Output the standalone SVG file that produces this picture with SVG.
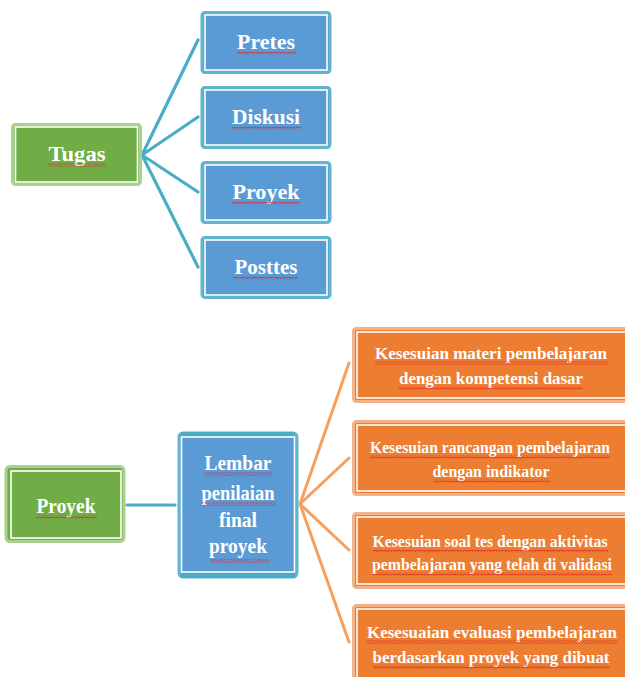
<svg xmlns="http://www.w3.org/2000/svg" width="625" height="677" viewBox="0 0 625 677">
<defs>
<pattern id="sq" width="3" height="3" patternUnits="userSpaceOnUse">
<polyline points="0,0.5 1.5,2.5 3,0.5" fill="none" stroke="#E0202A" stroke-width="0.9"/>
</pattern>
<style>
.bg{fill:#ffffff}
.green{fill:#70AD47;stroke:#A9D18E;stroke-width:3}
.blue{fill:#5B9BD5;stroke:#5FB6CE;stroke-width:3}
.orange{fill:#ED7D31;stroke:#F4B183;stroke-width:3}
.inner{fill:none;stroke:#ffffff;stroke-width:1.6}
.t{font-family:"Liberation Serif","Times New Roman",serif;font-weight:bold;fill:#ffffff;text-anchor:middle}
.t20{font-size:21px}
.t22{font-size:22px}
.t17{font-size:16px}
.tc{fill:none;stroke:#4BACC6;stroke-width:3.2;stroke-linecap:round}
.oc{fill:none;stroke:#F5A05E;stroke-width:3;stroke-linecap:round}
.u{fill:url(#sq)}
</style>
</defs>
<rect class="bg" x="0" y="0" width="625" height="677"/>

<g id="connectors">
<path class="tc" d="M142,155 L198,40 M142,155 L198,117 M142,155 L198,192 M142,155 L198,267"/>
<path class="tc" d="M127,505 L175,505"/>
<path class="oc" d="M300,504 L349,363 M300,504 L349,458 M300,504 L349,550 M300,504 L349,642"/>
</g>

<g id="tugas">
<rect class="green" x="12.5" y="124.5" width="128" height="60" rx="3"/>
<rect class="inner" x="15.5" y="127" width="122" height="55"/>
<text class="t t20" x="77" y="161" textLength="57" lengthAdjust="spacingAndGlyphs">Tugas</text>
<rect class="u" x="48" y="163.5" width="58" height="3"/>
</g>

<g id="pretes">
<rect class="blue" x="202" y="12.5" width="128" height="60" rx="3"/>
<rect class="inner" x="205" y="15" width="122" height="55"/>
<text class="t t20" x="266" y="49" textLength="58" lengthAdjust="spacingAndGlyphs">Pretes</text>
<rect class="u" x="237" y="51.5" width="59" height="3"/>
</g>

<g id="diskusi">
<rect class="blue" x="202" y="87.5" width="128" height="60" rx="3"/>
<rect class="inner" x="205" y="90" width="122" height="55"/>
<text class="t t20" x="266" y="124" textLength="68" lengthAdjust="spacingAndGlyphs">Diskusi</text>
<rect class="u" x="232" y="126.5" width="69" height="3"/>
</g>

<g id="proyek-top">
<rect class="blue" x="202" y="162.5" width="128" height="60" rx="3"/>
<rect class="inner" x="205" y="165" width="122" height="55"/>
<text class="t t20" x="266" y="199" textLength="67" lengthAdjust="spacingAndGlyphs">Proyek</text>
<rect class="u" x="232" y="201.5" width="68" height="3"/>
</g>

<g id="posttes">
<rect class="blue" x="202" y="237.5" width="128" height="60" rx="3"/>
<rect class="inner" x="205" y="240" width="122" height="55"/>
<text class="t t20" x="266" y="274" textLength="63" lengthAdjust="spacingAndGlyphs">Posttes</text>
<rect class="u" x="233" y="276.5" width="65" height="3"/>
</g>

<g id="proyek">
<rect class="green" x="6" y="466.5" width="118" height="75" rx="4"/>
<rect class="inner" x="11" y="471" width="110" height="67"/>
<text class="t t22" x="66" y="513" textLength="59" lengthAdjust="spacingAndGlyphs">Proyek</text>
<rect class="u" x="36" y="515.5" width="61" height="3"/>
</g>

<g id="lembar">
<rect class="blue" x="179" y="433" width="118" height="144" rx="4"/>
<rect x="181" y="432" width="114" height="4" fill="#4BACC6"/>
<rect x="181" y="574" width="114" height="4" fill="#4BACC6"/>
<rect class="inner" x="181.5" y="437" width="113" height="135"/>
<text class="t t22" x="238" y="470" textLength="67" lengthAdjust="spacingAndGlyphs">Lembar</text>
<rect class="u" x="204" y="472.5" width="68" height="3"/>
<text class="t t22" x="238" y="500" textLength="73" lengthAdjust="spacingAndGlyphs">penilaian</text>
<rect class="u" x="201" y="502.5" width="75" height="3"/>
<text class="t t22" x="238" y="527" textLength="38" lengthAdjust="spacingAndGlyphs">final</text>
<text class="t t22" x="238" y="553" textLength="58" lengthAdjust="spacingAndGlyphs">proyek</text>
<rect class="u" x="210" y="559.5" width="59" height="3"/>
</g>

<g id="k1">
<rect class="orange" x="353.5" y="328.5" width="280" height="73" rx="3"/>
<rect class="inner" x="357" y="332" width="280" height="66"/>
<text class="t t17" x="491" y="359" textLength="232" lengthAdjust="spacingAndGlyphs">Kesesuian materi pembelajaran</text>
<rect class="u" x="375" y="361.5" width="233" height="3"/>
<text class="t t17" x="491" y="384" textLength="184" lengthAdjust="spacingAndGlyphs">dengan kompetensi dasar</text>
<rect class="u" x="399" y="386.5" width="184" height="3"/>
</g>

<g id="k2">
<rect class="orange" x="353.5" y="421.5" width="280" height="73" rx="3"/>
<rect class="inner" x="357" y="425" width="280" height="66"/>
<text class="t t17" x="490" y="453" textLength="240" lengthAdjust="spacingAndGlyphs">Kesesuian rancangan pembelajaran</text>
<rect class="u" x="370" y="455.5" width="240" height="3"/>
<text class="t t17" x="491" y="477" textLength="117" lengthAdjust="spacingAndGlyphs">dengan indikator</text>
<rect class="u" x="433" y="479.5" width="117" height="3"/>
</g>

<g id="k3">
<rect class="orange" x="353.5" y="513.5" width="280" height="74" rx="3"/>
<rect class="inner" x="357" y="517" width="280" height="67"/>
<text class="t t17" x="490" y="547" textLength="235" lengthAdjust="spacingAndGlyphs">Kesesuian soal tes dengan aktivitas</text>
<rect class="u" x="373" y="549.5" width="235" height="3"/>
<text class="t t17" x="492" y="570" textLength="240" lengthAdjust="spacingAndGlyphs">pembelajaran yang telah di validasi</text>
<rect class="u" x="372" y="572.5" width="240" height="3"/>
</g>

<g id="k4">
<rect class="orange" x="353.5" y="605.5" width="280" height="90" rx="3"/>
<rect class="inner" x="357" y="609" width="280" height="80"/>
<text class="t t17" x="492" y="638" textLength="250" lengthAdjust="spacingAndGlyphs">Kesesuaian evaluasi pembelajaran</text>
<rect class="u" x="367" y="640.5" width="250" height="3"/>
<text class="t t17" x="491" y="663" textLength="237" lengthAdjust="spacingAndGlyphs">berdasarkan proyek yang dibuat</text>
<rect class="u" x="373" y="665.5" width="237" height="3"/>
</g>
</svg>
